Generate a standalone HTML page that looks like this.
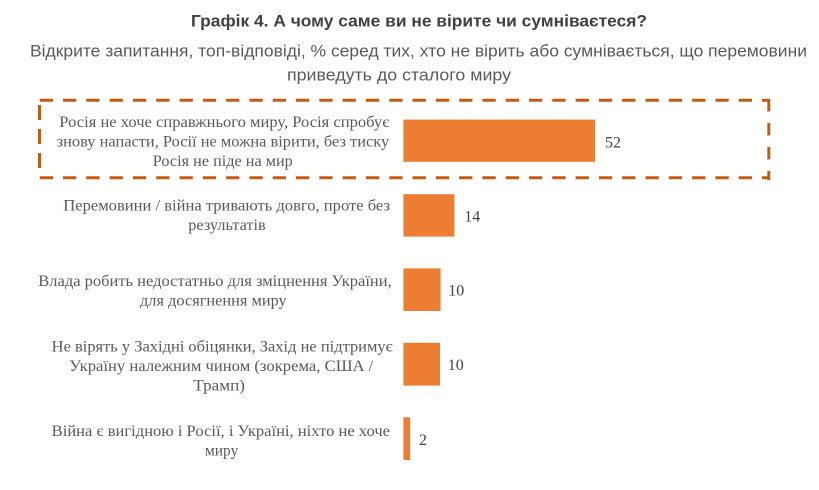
<!DOCTYPE html>
<html>
<head>
<meta charset="utf-8">
<style>
  html, body { margin:0; padding:0; background:#ffffff; }
  body { width:819px; height:490px; overflow:hidden; }
  svg { display:block; }
  .t { font-family:"Liberation Sans", Arial, sans-serif; }
  .s { font-family:"Liberation Serif", "Times New Roman", serif; }
</style>
</head>
<body>
<svg width="819" height="490" viewBox="0 0 819 490" xmlns="http://www.w3.org/2000/svg">
  <rect x="0" y="0" width="819" height="490" fill="#ffffff"/>

  <!-- Title -->
  <text class="t" x="191" y="26.7" font-size="16.5" font-weight="bold" fill="#404040" textLength="456" lengthAdjust="spacingAndGlyphs">Графік 4. А чому саме ви не вірите чи сумніваєтеся?</text>
  <text class="t" x="30" y="56.5" font-size="16.5" fill="#595959" textLength="777" lengthAdjust="spacingAndGlyphs">Відкрите запитання, топ-відповіді, % серед тих, хто не вірить або сумнівається, що перемовини</text>
  <text class="t" x="287" y="80.5" font-size="16.5" fill="#595959" textLength="224" lengthAdjust="spacingAndGlyphs">приведуть до сталого миру</text>

  <!-- Dashed highlight box -->
  <g stroke="#C55A11" stroke-width="3" fill="none">
    <line x1="39.7" y1="100.2" x2="768" y2="100.2" stroke-dasharray="13.3 10"/>
    <line x1="39.7" y1="177.8" x2="768" y2="177.8" stroke-dasharray="13.3 10"/>
    <line x1="39.5" y1="105" y2="172" x2="39.5" stroke-dasharray="15 9"/>
    <line x1="768.8" y1="99" x2="768.8" y2="180" stroke-dasharray="12.5 11.5"/>
  </g>

  <!-- Bars -->
  <g fill="#ED7D31">
    <rect x="403.4" y="119.6" width="191.6" height="42.2"/>
    <rect x="403.4" y="194.2" width="51.0" height="42.4"/>
    <rect x="403.4" y="268.4" width="37.2" height="42.6"/>
    <rect x="403.4" y="342.8" width="36.6" height="42.8"/>
    <rect x="403.4" y="417.3" width="6.8" height="42.7"/>
  </g>

  <!-- Values -->
  <g class="s" font-size="16" fill="#404040">
    <text x="605" y="147.3">52</text>
    <text x="464.3" y="221.5">14</text>
    <text x="448.3" y="295.5">10</text>
    <text x="447.8" y="370.2">10</text>
    <text x="419" y="444.8">2</text>
  </g>

  <!-- Category labels -->
  <g class="s" font-size="16" fill="#595959">
    <text x="59.3" y="126.9" textLength="330" lengthAdjust="spacingAndGlyphs">Росія не хоче справжнього миру, Росія спробує</text>
    <text x="56.7" y="146.4" textLength="332.5" lengthAdjust="spacingAndGlyphs">знову напасти, Росії не можна вірити, без тиску</text>
    <text x="152.8" y="165.9" textLength="140" lengthAdjust="spacingAndGlyphs">Росія не піде на мир</text>

    <text x="63.3" y="210.7" textLength="326.7" lengthAdjust="spacingAndGlyphs">Перемовини / війна тривають довго, проте без</text>
    <text x="188.3" y="230.2" textLength="77.4" lengthAdjust="spacingAndGlyphs">результатів</text>

    <text x="38.3" y="285.9" textLength="353.4" lengthAdjust="spacingAndGlyphs">Влада робить недостатньо для зміцнення України,</text>
    <text x="140" y="305.4" textLength="146.7" lengthAdjust="spacingAndGlyphs">для досягнення миру</text>

    <text x="51.7" y="351.3" textLength="341" lengthAdjust="spacingAndGlyphs">Не вірять у Західні обіцянки, Захід не підтримує</text>
    <text x="69.3" y="370.8" textLength="304" lengthAdjust="spacingAndGlyphs">Україну належним чином (зокрема,  США /</text>
    <text x="193.3" y="390.3" textLength="51.7" lengthAdjust="spacingAndGlyphs">Трамп)</text>

    <text x="51.7" y="435.9" textLength="338.3" lengthAdjust="spacingAndGlyphs">Війна є вигідною і Росії, і Україні, ніхто не хоче</text>
    <text x="205" y="455.4" textLength="33.3" lengthAdjust="spacingAndGlyphs">миру</text>
  </g>
</svg>
</body>
</html>
